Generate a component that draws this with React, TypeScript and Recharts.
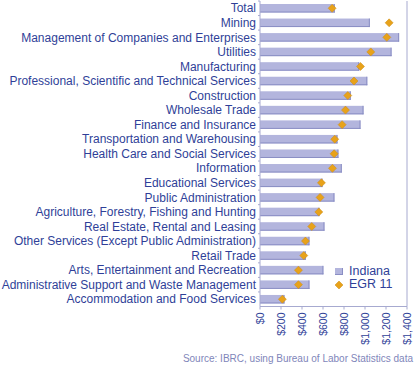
import React from "react";
import { ComposedChart, Bar, Line, XAxis, YAxis, ReferenceLine, Legend } from "recharts";

const categories = [
  "Total",
  "Mining",
  "Management of Companies and Enterprises",
  "Utilities",
  "Manufacturing",
  "Professional, Scientific and Technical Services",
  "Construction",
  "Wholesale Trade",
  "Finance and Insurance",
  "Transportation and Warehousing",
  "Health Care and Social Services",
  "Information",
  "Educational Services",
  "Public Administration",
  "Agriculture, Forestry, Fishing and Hunting",
  "Real Estate, Rental and Leasing",
  "Other Services (Except Public Administration)",
  "Retail Trade",
  "Arts, Entertainment and Recreation",
  "Administrative Support and Waste Management",
  "Accommodation and Food Services",
];
const indiana = [712, 1046, 1325, 1253, 945, 1022, 865, 986, 957, 738, 747, 779, 595, 709, 566, 614, 471, 436, 604, 471, 233];
const egr11 = [687, 1230, 1208, 1055, 957, 895, 836, 814, 782, 712, 706, 690, 585, 572, 560, 493, 433, 417, 366, 366, 213];
const xTicks = [0, 200, 400, 600, 800, 1000, 1200, 1400];
const seriesNames = ["Indiana", "EGR 11"];

const data = categories.map((name, i) => ({ name, indiana: indiana[i], egr: egr11[i] }));

const TEXT = "#2f3f98";
const AXIS = "#a7aad0";
const BAR_FILL = "#b3b5dd";
const BAR_EDGE = "#8a8ec4";
const DIAMOND = "#e8a21a";
const DIAMOND_EDGE = "#c98b12";
const FONT = "'Liberation Sans', Arial, sans-serif";

const BAND = (365 - 1 - 58.5) / categories.length;

const YTick = (props: any) => {
  const { x, y, payload } = props;
  return (
    <g>
      <line x1={x + 2} x2={x + 4} y1={y - BAND / 2} y2={y - BAND / 2} stroke={AXIS} strokeWidth={1} />
      <text x={x} y={y} dy="0.35em" textAnchor="end" fontSize={12} fill={TEXT} fontFamily={FONT}>
        {payload.value}
      </text>
    </g>
  );
};

const XTick = (props: any) => {
  const { x, y, payload } = props;
  const label = "$" + Number(payload.value).toLocaleString("en-US");
  return (
    <text
      x={x}
      y={y}
      dy="0.35em"
      textAnchor="end"
      fontSize={10.5}
      fill={TEXT}
      fontFamily={FONT}
      transform={`rotate(-90, ${x}, ${y})`}
    >
      {label}
    </text>
  );
};

const BarShape = (props: any) => {
  const { x, y, width, height } = props;
  if (!width || width <= 0) return null;
  return (
    <g>
      <rect x={x} y={y} width={width} height={height} fill={BAR_FILL} />
      <line x1={x} x2={x + width} y1={y + height - 0.5} y2={y + height - 0.5} stroke={BAR_EDGE} strokeWidth={1} />
      <line x1={x + width - 0.5} x2={x + width - 0.5} y1={y} y2={y + height} stroke={BAR_EDGE} strokeWidth={1} />
    </g>
  );
};

const Diamond = (props: any) => {
  const { cx, cy } = props;
  if (cx == null || cy == null) return null;
  const r = 4;
  return (
    <path
      d={`M${cx},${cy - r} L${cx + r},${cy} L${cx},${cy + r} L${cx - r},${cy} Z`}
      fill={DIAMOND}
      stroke={DIAMOND_EDGE}
      strokeWidth={0.5}
    />
  );
};

const LegendContent = () => (
  <div style={{ fontFamily: FONT, fontSize: 12.5, color: TEXT, lineHeight: "13px" }}>
    <div style={{ display: "flex", alignItems: "center", height: 13 }}>
      <svg width={10} height={10} style={{ marginRight: 5 }}>
        <rect x={1} y={1} width={8} height={7} fill={BAR_FILL} />
        <line x1={1} x2={9} y1={7.5} y2={7.5} stroke={BAR_EDGE} />
        <line x1={8.5} x2={8.5} y1={1} y2={8} stroke={BAR_EDGE} />
      </svg>
      <span>{seriesNames[0]}</span>
    </div>
    <div style={{ display: "flex", alignItems: "center", height: 13 }}>
      <svg width={10} height={10} style={{ marginRight: 5 }}>
        <path d="M5,1 L9,5 L5,9 L1,5 Z" fill={DIAMOND} stroke={DIAMOND_EDGE} strokeWidth={0.5} />
      </svg>
      <span>{seriesNames[1]}</span>
    </div>
  </div>
);

export default function App() {
  return (
    <div style={{ position: "absolute", left: 0, top: 0, width: 417, height: 365, background: "#fff" }}>
      <ComposedChart
        width={417}
        height={365}
        data={data}
        layout="vertical"
        margin={{ top: 1, right: 10, bottom: 0, left: 0 }}
      >
        <XAxis
          type="number"
          dataKey="indiana"
          domain={[0, 1400]}
          ticks={xTicks}
          interval={0}
          height={58.5}
          tick={<XTick />}
          tickSize={3}
          tickMargin={3}
          axisLine={{ stroke: AXIS }}
          tickLine={{ stroke: AXIS }}
        />
        <XAxis
          xAxisId="top"
          orientation="top"
          type="number"
          domain={[0, 1400]}
          height={0}
          tick={false}
          tickLine={false}
          axisLine={{ stroke: AXIS }}
        />
        <YAxis
          type="category"
          dataKey="name"
          width={260}
          interval={0}
          tickSize={2}
          tickMargin={2}
          tick={<YTick />}
          tickLine={false}
          axisLine={{ stroke: AXIS }}
        />
        <ReferenceLine x={1400} stroke={AXIS} />
        <Bar dataKey="indiana" name={seriesNames[0]} barSize={8.5} shape={<BarShape />} isAnimationActive={false} />
        <Line
          dataKey="egr"
          name={seriesNames[1]}
          stroke="none"
          dot={<Diamond />}
          activeDot={false}
          isAnimationActive={false}
        />
        <Legend
          layout="vertical"
          align="center"
          verticalAlign="middle"
          content={<LegendContent />}
          wrapperStyle={{ left: 334, top: 265, width: 80, height: 30 }}
        />
      </ComposedChart>
      <div
        style={{
          position: "absolute",
          right: 4,
          top: 353,
          fontFamily: FONT,
          fontSize: 10,
          color: "#7f86ba",
          whiteSpace: "nowrap",
          lineHeight: "12px",
        }}
      >
        Source: IBRC, using Bureau of Labor Statistics data
      </div>
    </div>
  );
}
